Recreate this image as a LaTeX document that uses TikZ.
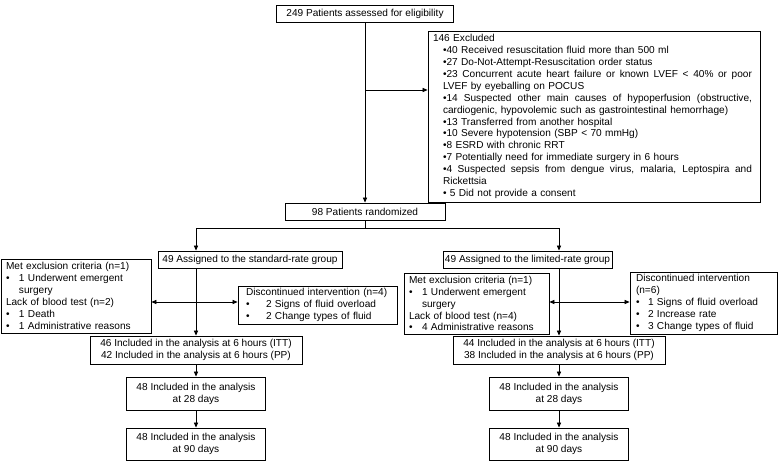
\documentclass[tikz,border=0pt]{standalone}
\usepackage{fontspec}
\setmainfont{Liberation Sans}
\usetikzlibrary{arrows.meta}
\newcommand{\fsz}{\fontsize{10.1pt}{11.9pt}\selectfont}
\newcommand{\bul}[1][13pt]{\makebox[#1][l]{•}}
\newcommand{\jline}[1]{\hbox to 309pt{\spaceskip=\fontdimen2\font plus 1fil\relax #1}}
\begin{document}
\begin{tikzpicture}[x=1pt,y=-1pt,
  box/.style={draw=black, line width=0.9pt, inner ysep=0pt, font=\fsz},
  cbox/.style={box, align=center, inner xsep=2pt},
  lbox/.style={box, align=left},
  arr/.style={-{Triangle[length=5pt,width=4.2pt]}, line width=0.75pt},
  darr/.style={{Triangle[length=5pt,width=4.2pt]}-{Triangle[length=5pt,width=4.2pt]}, line width=0.75pt},
  ln/.style={line width=0.75pt}]
\fill[white] (0,0) rectangle (779,462);
\useasboundingbox (0,0) rectangle (779,462);

\node[cbox, minimum width=177pt, minimum height=17pt] (elig) at (365,13.5) {249 Patients assessed for eligibility};

\node[lbox, text width=322pt, inner xsep=5pt, minimum height=171pt] (excl) at (594,116.5) {146 Excluded\\
\hspace*{10pt}•40 Received resuscitation fluid more than 500 ml\\
\hspace*{10pt}•27 Do-Not-Attempt-Resuscitation order status\\
\hspace*{10pt}\jline{•23 Concurrent acute heart failure or known LVEF < 40\% or poor}\\
\hspace*{10pt}LVEF by eyeballing on POCUS\\
\hspace*{10pt}\jline{•14 Suspected other main causes of hypoperfusion (obstructive,}\\
\hspace*{10pt}cardiogenic, hypovolemic such as gastrointestinal hemorrhage)\\
\hspace*{10pt}•13 Transferred from another hospital\\
\hspace*{10pt}•10 Severe hypotension (SBP < 70 mmHg)\\
\hspace*{10pt}•8 ESRD with chronic RRT\\
\hspace*{10pt}•7 Potentially need for immediate surgery in 6 hours\\
\hspace*{10pt}\jline{•4 Suspected sepsis from dengue virus, malaria, Leptospira and}\\
\hspace*{10pt}Rickettsia\\
\hspace*{10pt}• 5 Did not provide a consent};

\node[cbox, minimum width=160pt, minimum height=17pt] (rand) at (365,211.5) {98 Patients randomized};
\node[cbox, minimum width=184pt, minimum height=17pt] (std) at (250,259.5) {49 Assigned to the standard-rate group};
\node[cbox, minimum width=165pt, minimum height=17pt] (lim) at (527.5,259.5) {49 Assigned to the limited-rate group};

\node[lbox, text width=140pt, inner xsep=5pt, minimum height=74pt] (metL) at (76,296) {Met exclusion criteria (n=1)\\
\bul 1 Underwent emergent\\
\hspace*{13pt}surgery\\
Lack of blood test (n=2)\\
\bul 1 Death\\
\bul 1 Administrative reasons};

\node[lbox, text width=143pt, inner xsep=8pt, minimum height=38pt] (discL) at (317.5,305) {Discontinued intervention (n=4)\\
\bul[20pt]2 Signs of fluid overload\\
\bul[20pt]2 Change types of fluid};

\node[cbox, minimum width=212pt, minimum height=28pt] (ittL) at (196,350) {46 Included in the analysis at 6 hours (ITT)\\42 Included in the analysis at 6 hours (PP)};
\node[cbox, minimum width=139pt, minimum height=33pt] (d28L) at (196,393.5) {48 Included in the analysis\\at 28 days};
\node[cbox, minimum width=139pt, minimum height=32pt] (d90L) at (196,444) {48 Included in the analysis\\at 90 days};

\node[lbox, text width=135pt, inner xsep=5pt, minimum height=61pt] (metR) at (476.5,303.5) {Met exclusion criteria (n=1)\\
\bul 1 Underwent emergent\\
\hspace*{13pt}surgery\\
Lack of blood test (n=4)\\
\bul 4 Administrative reasons};

\node[lbox, text width=135pt, inner xsep=6pt, minimum height=62pt] (discR) at (703.5,303) {Discontinued intervention\\
(n=6)\\
\bul[12pt]1 Signs of fluid overload\\
\bul[12pt]2 Increase rate\\
\bul[12pt]3 Change types of fluid};

\node[cbox, minimum width=212pt, minimum height=28pt] (ittR) at (559,350) {44 Included in the analysis at 6 hours (ITT)\\38 Included in the analysis at 6 hours (PP)};
\node[cbox, minimum width=139pt, minimum height=33pt] (d28R) at (559,393.5) {48 Included in the analysis\\at 28 days};
\node[cbox, minimum width=139pt, minimum height=32pt] (d90R) at (559,444) {48 Included in the analysis\\at 90 days};

\coordinate (ex) at (365,90);
\coordinate (sp) at (365,228);
\coordinate (spL) at (196,228);
\coordinate (spR) at (559,228);
\coordinate (dl) at (196,302);
\coordinate (dr) at (559,302);

\draw[arr] (elig.south) -- (rand.north);
\draw[arr] (ex) -- (ex -| excl.west);
\draw[ln] (rand.south) -- (sp);
\draw[arr] (sp) -| (spL |- std.north);
\draw[arr] (sp) -| (spR |- lim.north);

\draw[arr] (spL |- std.south) -- (ittL.north);
\draw[darr] (dl -| metL.east) -- (dl -| discL.west);
\draw[arr] (ittL.south) -- (d28L.north);
\draw[arr] (d28L.south) -- (d90L.north);

\draw[arr] (spR |- lim.south) -- (ittR.north);
\draw[darr] (dr -| metR.east) -- (dr -| discR.west);
\draw[arr] (ittR.south) -- (d28R.north);
\draw[arr] (d28R.south) -- (d90R.north);
\end{tikzpicture}
\end{document}
